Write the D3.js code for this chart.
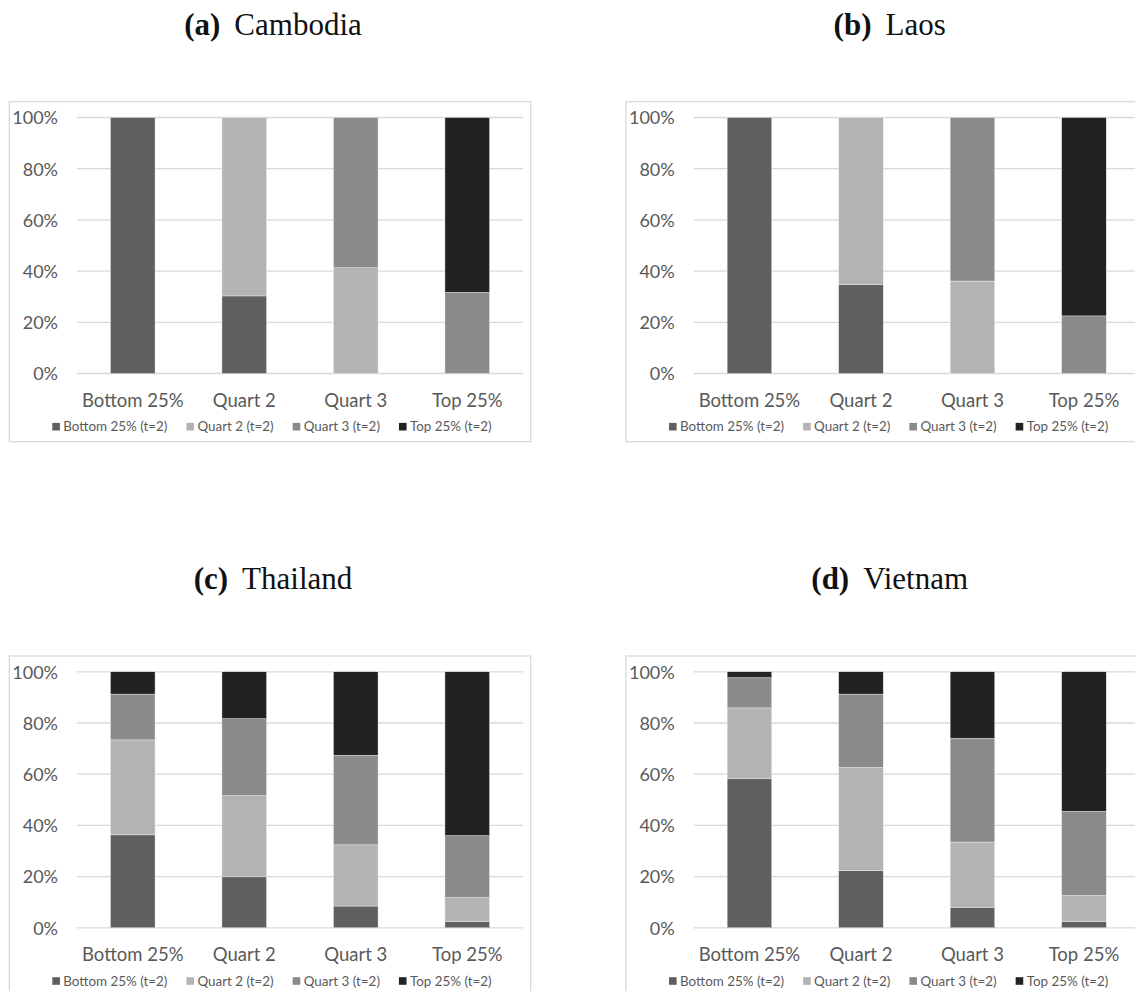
<!DOCTYPE html>
<html>
<head>
<meta charset="utf-8">
<script src="https://cdn.jsdelivr.net/npm/d3@7"></script>
<style>
  html, body { margin: 0; padding: 0; background: #fff; }
  svg { display: block; }
</style>
</head>
<body>
<svg id="chart" width="1135" height="991"></svg>
<script>
// ---------------- DATA ----------------
const categories = ["Bottom 25%", "Quart 2", "Quart 3", "Top 25%"];
const seriesNames = ["Bottom 25% (t=2)", "Quart 2 (t=2)", "Quart 3 (t=2)", "Top 25% (t=2)"];
const seriesColors = ["#5f5f5f", "#b3b3b3", "#8a8a8a", "#222222"];
const yTicks = [0, 20, 40, 60, 80, 100];

const panelLabels = ["(a)", "(b)", "(c)", "(d)"];
const countries = ["Cambodia", "Laos", "Thailand", "Vietnam"];

// values (%) per series, indexed by category
const cambodiaBottom = [100, 30.3, 0, 0];
const cambodiaQuart2 = [0, 69.7, 41.3, 0];
const cambodiaQuart3 = [0, 0, 58.7, 31.7];
const cambodiaTop    = [0, 0, 0, 68.3];

const laosBottom = [100, 34.8, 0, 0];
const laosQuart2 = [0, 65.2, 36.1, 0];
const laosQuart3 = [0, 0, 63.9, 22.5];
const laosTop    = [0, 0, 0, 77.5];

const thailandBottom = [36.3, 19.9, 8.5, 2.5];
const thailandQuart2 = [37.1, 31.7, 23.9, 9.3];
const thailandQuart3 = [17.9, 30.1, 35.0, 24.2];
const thailandTop    = [8.7, 18.3, 32.6, 64.0];

const vietnamBottom = [58.2, 22.4, 8.0, 2.5];
const vietnamQuart2 = [27.7, 40.2, 25.5, 10.1];
const vietnamQuart3 = [11.8, 28.7, 40.5, 32.9];
const vietnamTop    = [2.3, 8.7, 26.0, 54.5];

const countrySeries = [
  [cambodiaBottom, cambodiaQuart2, cambodiaQuart3, cambodiaTop],
  [laosBottom, laosQuart2, laosQuart3, laosTop],
  [thailandBottom, thailandQuart2, thailandQuart3, thailandTop],
  [vietnamBottom, vietnamQuart2, vietnamQuart3, vietnamTop]
];

// ---------------- LAYOUT ----------------
const svg = d3.select("#chart");
const FONT = "Lato, 'Open Sans', sans-serif";
const TEXT = "#595959";
const GRID = "#d9d9d9";

const offsets = [[0, 0], [616.7, 0], [0, 554.3], [616.7, 554.3]];
const frame = { x: 9.3, y: 101.7, w: 521.4, h: 340 };
const plot = { left: 77, right: 523, top: 117.5, bottom: 373.5 };
const titleCx = 273, titleBase = 35;

const x = d3.scaleBand().domain(categories).range([plot.left, plot.right]).paddingInner(0.6).paddingOuter(0.3);
const y = d3.scaleLinear().domain([0, 100]).range([plot.bottom, plot.top]);

countrySeries.forEach((series, pi) => {
  const [ox, oy] = offsets[pi];
  const g = svg.append("g").attr("transform", `translate(${ox},${oy})`);

  // title
  const t = g.append("text")
    .attr("x", titleCx).attr("y", titleBase)
    .attr("text-anchor", "middle")
    .style("font-family", "'Liberation Serif', 'DejaVu Serif', serif")
    .style("font-size", "31px")
    .style("fill", "#111");
  t.append("tspan").style("font-weight", "bold").text(panelLabels[pi]);
  t.append("tspan").attr("dx", 14).text(countries[pi]);

  // frame
  g.append("rect")
    .attr("x", frame.x).attr("y", frame.y).attr("width", frame.w).attr("height", frame.h)
    .attr("fill", "#fff").attr("stroke", GRID).attr("stroke-width", 1.3);

  // gridlines
  g.append("g").selectAll("line").data(yTicks).join("line")
    .attr("x1", plot.left).attr("x2", plot.right)
    .attr("y1", d => y(d)).attr("y2", d => y(d))
    .attr("stroke", GRID).attr("stroke-width", 1.3);

  // y axis labels
  const yAxis = d3.axisLeft(y).tickValues(yTicks).tickFormat(d => d + "%").tickSize(0).tickPadding(0);
  const ya = g.append("g").attr("transform", `translate(${plot.left - 19},0)`).call(yAxis);
  ya.select(".domain").remove();
  ya.selectAll("text").style("font-family", FONT).style("font-size", "18px").style("fill", TEXT).attr("dy", "0.35em");

  // x axis labels
  const xAxis = d3.axisBottom(x).tickSize(0).tickPadding(0);
  const xa = g.append("g").attr("transform", `translate(0,${plot.bottom})`).call(xAxis);
  xa.select(".domain").remove();
  xa.selectAll("text").style("font-family", FONT).style("font-size", "18.5px").style("fill", TEXT)
    .attr("dy", null).attr("y", 33.2);

  // stacked bars
  const rows = categories.map((c, i) => {
    const r = { category: c };
    seriesNames.forEach((s, si) => r[s] = series[si][i]);
    return r;
  });
  const stacked = d3.stack().keys(seriesNames)(rows);
  g.append("g").selectAll("g").data(stacked).join("g")
    .attr("fill", (d, i) => seriesColors[i])
    .selectAll("rect").data(d => d.filter(v => v[1] - v[0] > 0)).join("rect")
    .attr("x", d => x(d.data.category))
    .attr("width", x.bandwidth())
    .attr("y", d => y(d[1]))
    .attr("height", d => y(d[0]) - y(d[1]))
    .attr("stroke", "#f4f4f4").attr("stroke-width", 0.4);

  // legend
  const legY = 426.7;
  const lg = g.append("g");
  const items = lg.selectAll("g").data(seriesNames).join("g");
  items.append("rect").attr("width", 7.6).attr("height", 7.6).attr("y", legY - 3.8)
    .attr("fill", (d, i) => seriesColors[i]);
  items.append("text").attr("x", 11).attr("y", legY).attr("dy", "0.35em")
    .style("font-family", FONT).style("font-size", "13.4px").style("fill", TEXT)
    .text(d => d);
  const widths = [];
  items.each(function () { widths.push(11 + d3.select(this).select("text").node().getComputedTextLength()); });
  const gap = 19;
  const total = d3.sum(widths) + gap * (widths.length - 1);
  let cx = frame.x + frame.w / 2 - total / 2 + 2;
  items.attr("transform", (d, i) => { const tx = cx; cx += widths[i] + gap; return `translate(${tx},0)`; });
});
</script>
</body>
</html>
